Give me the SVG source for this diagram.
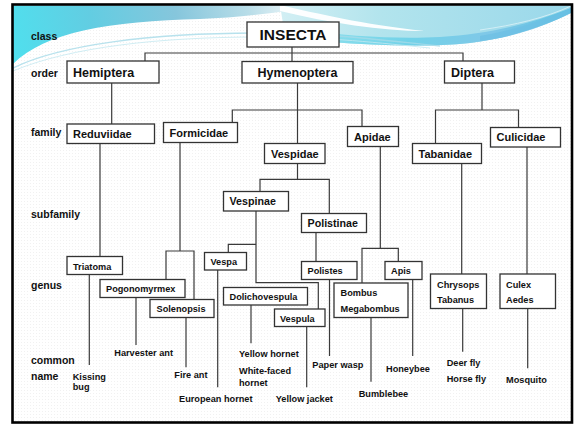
<svg xmlns="http://www.w3.org/2000/svg" width="576" height="424" viewBox="0 0 576 424">
<defs>
<style>
text{font-family:"Liberation Sans",Arial,sans-serif;font-weight:bold;fill:#111}
.rank{font-size:10.5px}
.ord{font-size:12.5px}
.fam{font-size:11px}
.sub{font-size:10.7px}
.gen{font-size:9.2px}
.com{font-size:9.2px}
.box{fill:#fff;stroke:#333;stroke-width:1.3}
.con{fill:none;stroke:#3a3a3a;stroke-width:1.2}
</style>
<linearGradient id="gL" gradientUnits="userSpaceOnUse" x1="13" y1="64" x2="290" y2="5">
<stop offset="0" stop-color="#4fe0ee"/>
<stop offset="0.3" stop-color="#62cde2"/>
<stop offset="0.6" stop-color="#86c6dc"/>
<stop offset="0.85" stop-color="#b8dde8"/>
<stop offset="1" stop-color="#e6f3f7"/>
</linearGradient>
<linearGradient id="gR" gradientUnits="userSpaceOnUse" x1="280" y1="0" x2="571" y2="0">
<stop offset="0" stop-color="#d2eff4"/>
<stop offset="0.35" stop-color="#b2e4ed"/>
<stop offset="1" stop-color="#9ad8ea"/>
</linearGradient>
<linearGradient id="gB" gradientUnits="userSpaceOnUse" x1="300" y1="0" x2="571" y2="0">
<stop offset="0" stop-color="#8fe2ee"/>
<stop offset="0.4" stop-color="#72d2e8"/>
<stop offset="0.7" stop-color="#80c8e8"/>
<stop offset="1" stop-color="#5fc3e2"/>
</linearGradient>
<pattern id="dots" width="3" height="3" patternUnits="userSpaceOnUse">
<rect width="3" height="3" fill="#fff"/>
<rect width="1" height="1" fill="#f1f1f1"/>
</pattern>
<clipPath id="frameClip"><rect x="13" y="5.5" width="558" height="416"/></clipPath>
</defs>
<rect x="0" y="0" width="576" height="424" fill="#fff"/>
<rect x="13" y="5.5" width="558" height="416" fill="url(#dots)"/>
<g id="header" clip-path="url(#frameClip)">
<path d="M13,5 H330 C 280,12 240,18 200,19 C 110,21 45,32 13,64 Z" fill="url(#gL)"/>
<path d="M280,5 H571 V12 C 545,25 510,38 470,43 C 430,47 380,46 330,42 C 310,40 295,38 285,36 Z" fill="url(#gR)"/>
<path d="M300,29 C 350,37 400,39 440,37 C 490,34 530,24 571,8 V13 C 545,26 510,38 470,43 C 430,47 380,46 330,42 C 318,40 308,36 300,29 Z" fill="url(#gB)"/>
<path d="M480,36 C 515,30 545,20 571,8 V13 C 545,26 515,37 480,41 Z" fill="#6cbfe4" opacity="0.7"/>
<path d="M280,5 C 320,14 360,24 425,31 C 380,31 330,23 280,11 Z" fill="#fff" opacity="0.95"/>
<path d="M480,30 C 515,25 545,18 571,6" fill="none" stroke="#d6f0f6" stroke-width="1" opacity="0.9"/>
<path d="M13,68 C 60,45 150,33 260,33 C 330,33 380,40 440,46" fill="none" stroke="#a6dbe8" stroke-width="1.4" opacity="0.8"/>
<path d="M13,71 C 70,47 160,37 260,37 C 330,37 380,43 430,48" fill="none" stroke="#c4e8f0" stroke-width="1" opacity="0.8"/>
</g>
<rect id="frame" x="12.5" y="4.5" width="559.5" height="418" fill="none" stroke="#000" stroke-width="2.6"/>
<g id="ranks">
<text class="rank" x="31" y="40">class</text>
<text class="rank" x="31" y="76.5">order</text>
<text class="rank" x="31" y="136">family</text>
<text class="rank" x="31" y="217.5">subfamily</text>
<text class="rank" x="31" y="289">genus</text>
<text class="rank" x="31" y="363.5">common</text>
<text class="rank" x="31" y="379.5">name</text>
</g>
<g id="connectors" class="con">
<path d="M292,47 V61.5 M145,61 V53 H463 V61"/>
<path d="M111.7,83 V124"/>
<path d="M297.5,83 V143.5 M232.3,122.5 V110 H362 V126.5"/>
<path d="M482,83 V110 M435.5,143.5 V110 H518.5 V127.5"/>
<path d="M100,143.5 V256.5"/>
<path d="M89.3,274.5 V365"/>
<path d="M180,142.5 V251 M166,279.5 V251 H194 V299.5"/>
<path d="M136,297.5 V345"/>
<path d="M186,317.5 V367.3"/>
<path d="M297.5,163.5 V179.3 M260,191.5 V179.3 H329.3 V213.5"/>
<path d="M256,211 V282.7 H318.3 V309 M256,244.3 H228.3 V252.5"/>
<path d="M217.7,270 V387.3"/>
<path d="M251,305 V343.3"/>
<path d="M306.7,326.5 V387.3"/>
<path d="M316,232.5 V261.5"/>
<path d="M329.5,279.5 V356"/>
<path d="M380.3,146.5 V248.3 M362,283 V248.3 H398.3 V261.5"/>
<path d="M371,317.5 V381.7"/>
<path d="M412.7,279.5 V356"/>
<path d="M461.7,163.5 V274"/>
<path d="M462.7,308.5 V351.7"/>
<path d="M527,147 V274"/>
<path d="M527.7,308.5 V368.3"/>
</g>
<g id="insecta"><rect class="box" x="247" y="22" width="92" height="25" stroke-width="1.6"/><text x="293" y="40" text-anchor="middle" font-size="15.5">INSECTA</text></g>
<g id="hemiptera"><rect class="box" x="67" y="61" width="92" height="22"/><text class="ord" x="73" y="76.5">Hemiptera</text></g>
<g id="hymenoptera"><rect class="box" x="242" y="61.5" width="111" height="21.5"/><text class="ord" x="257.5" y="76.5">Hymenoptera</text></g>
<g id="diptera"><rect class="box" x="444.5" y="61" width="70" height="22"/><text class="ord" x="451" y="76.5">Diptera</text></g>
<g id="reduviidae"><rect class="box" x="67" y="124" width="87.5" height="19.5"/><text class="fam" x="73" y="137.8">Reduviidae</text></g>
<g id="formicidae"><rect class="box" x="163.5" y="122.5" width="74" height="20"/><text class="fam" x="169.5" y="136.5">Formicidae</text></g>
<g id="apidae"><rect class="box" x="347.5" y="126.5" width="51" height="20"/><text class="fam" x="354" y="140.5">Apidae</text></g>
<g id="vespidae"><rect class="box" x="264.5" y="143.5" width="60.5" height="20"/><text class="fam" x="271" y="157.5">Vespidae</text></g>
<g id="tabanidae"><rect class="box" x="412.5" y="143.5" width="69" height="20"/><text class="fam" x="418.5" y="157.5">Tabanidae</text></g>
<g id="culicidae"><rect class="box" x="490.5" y="127.5" width="70" height="19.5"/><text class="fam" x="496.5" y="141">Culicidae</text></g>
<g id="vespinae"><rect class="box" x="223.5" y="191.5" width="65" height="19.5"/><text class="sub" x="229.5" y="205">Vespinae</text></g>
<g id="polistinae"><rect class="box" x="301.5" y="213.5" width="65" height="19"/><text class="sub" x="307.5" y="227">Polistinae</text></g>
<g id="triatoma"><rect class="box" x="67" y="256.5" width="55.5" height="18"/><text class="gen" x="73" y="269.5">Triatoma</text></g>
<g id="vespa"><rect class="box" x="204.5" y="252.5" width="42" height="17.5"/><text class="gen" x="210.5" y="265">Vespa</text></g>
<g id="polistes"><rect class="box" x="301.5" y="261.5" width="55.5" height="18"/><text class="gen" x="307.5" y="274">Polistes</text></g>
<g id="apis"><rect class="box" x="385" y="261.5" width="37" height="18"/><text class="gen" x="391" y="274">Apis</text></g>
<g id="pogonomyrmex"><rect class="box" x="100" y="279.5" width="85" height="18"/><text class="gen" x="106" y="292">Pogonomyrmex</text></g>
<g id="dolichovespula"><rect class="box" x="223.5" y="287.5" width="84" height="17.5"/><text class="gen" x="229.5" y="300">Dolichovespula</text></g>
<g id="solenopsis"><rect class="box" x="150" y="299.5" width="64" height="18"/><text class="gen" x="156.5" y="312">Solenopsis</text></g>
<g id="vespula"><rect class="box" x="274.5" y="309" width="50.5" height="17.5"/><text class="gen" x="280" y="322">Vespula</text></g>
<g id="bombus"><rect class="box" x="334" y="283" width="74" height="34.5"/><text class="gen" x="340.5" y="295.5">Bombus</text><text class="gen" x="340.5" y="312">Megabombus</text></g>
<g id="chrysops"><rect class="box" x="430.5" y="274" width="56" height="34.5"/><text class="gen" x="437" y="287.5">Chrysops</text><text class="gen" x="437" y="303">Tabanus</text></g>
<g id="culex"><rect class="box" x="500" y="274" width="55.5" height="34.5"/><text class="gen" x="506" y="287.5">Culex</text><text class="gen" x="506" y="303">Aedes</text></g>
<g id="common-names">
<text class="com" x="72.7" y="379.5">Kissing</text>
<text class="com" x="72.7" y="390">bug</text>
<text class="com" x="114.3" y="356">Harvester ant</text>
<text class="com" x="174.3" y="377.7">Fire ant</text>
<text class="com" x="179" y="401.5">European hornet</text>
<text class="com" x="239" y="357.3">Yellow hornet</text>
<text class="com" x="239" y="374">White-faced</text>
<text class="com" x="239" y="385.5">hornet</text>
<text class="com" x="275.7" y="401.5">Yellow jacket</text>
<text class="com" x="312.3" y="368">Paper wasp</text>
<text class="com" x="358.7" y="397">Bumblebee</text>
<text class="com" x="386" y="371.5">Honeybee</text>
<text class="com" x="446.7" y="365.5">Deer fly</text>
<text class="com" x="446.7" y="382">Horse fly</text>
<text class="com" x="506" y="382.5">Mosquito</text>
</g>
</svg>
